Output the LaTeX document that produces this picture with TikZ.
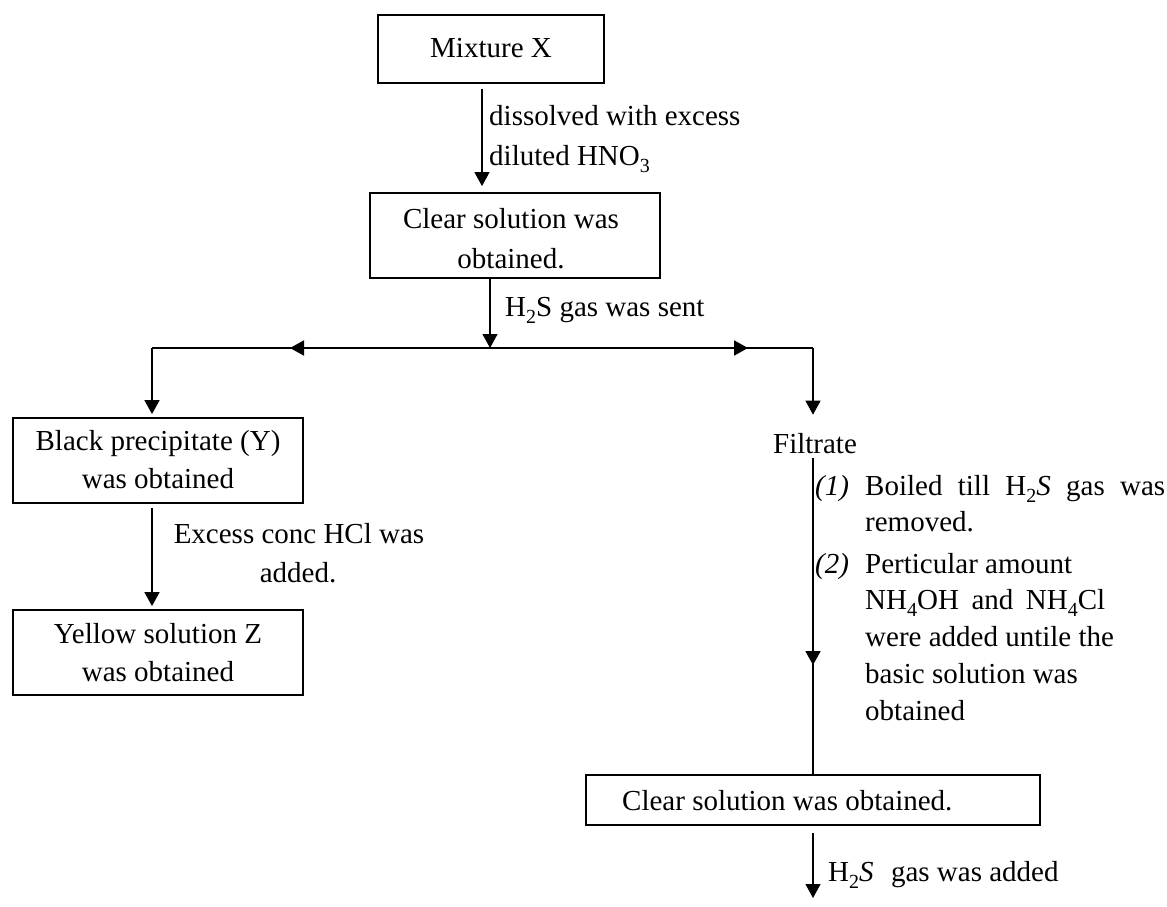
\documentclass[tikz,border=0pt]{standalone}
\usepackage{fontspec}
\setmainfont{Liberation Serif}
\usetikzlibrary{arrows.meta}
\newcommand\chsub[1]{\raisebox{-0.27em}{\fontsize{20}{20}\selectfont #1}}
\begin{document}
\begin{tikzpicture}[x=1pt,y=-1pt,
  box/.style={draw, line width=1.8pt, inner sep=0pt, minimum height=85pt},
  txt/.style={font=\fontsize{29}{39}\selectfont, inner sep=0pt},
  conn/.style={line width=1.1pt},
  tip/.style={conn, -{Triangle[length=14pt,width=15pt]}},
  heavy/.style={line width=1.8pt, -{Triangle[length=14pt,width=15pt]}},
]
\useasboundingbox (0,0) rectangle (1167,906);

% boxes and their texts
\node[box, minimum width=226pt, minimum height=68pt] (mix) at (491,49) {};
\node[txt, anchor=base] (mixT) at (491,57) {Mixture X};

\node[box, minimum width=290pt] (clear1) at (515,235.5) {};
\node[txt, anchor=base] (clear1a) at (511,228) {Clear solution was};
\node[txt, anchor=base] (clear1b) at (511,268) {obtained.};

\node[box, minimum width=290pt] (black) at (158,460.5) {};
\node[txt, anchor=base] (blacka) at (158,450) {Black precipitate (Y)};
\node[txt, anchor=base] (blackb) at (158,488) {was obtained};

\node[box, minimum width=290pt] (yellow) at (158,652.5) {};
\node[txt, anchor=base] (yellowa) at (158,643) {Yellow solution Z};
\node[txt, anchor=base] (yellowb) at (158,681) {was obtained};

\node[box, minimum width=454pt, minimum height=50pt] (clear2) at (813,800) {};
\node[txt, anchor=base west] (clear2T) at (622,810) {Clear solution was obtained.};

\node[txt, anchor=base] (filt) at (815,453) {Filtrate};

% labels
\node[txt, anchor=base west] (l1a) at (489,125) {dissolved with excess};
\node[txt, anchor=base west] (l1b) at (489,165) {diluted HNO\chsub{3}};
\node[txt, anchor=base west] (l2) at (505,316) {H\chsub{2}S gas was sent};
\node[txt, anchor=base] (l3a) at (299,543) {Excess conc HCl was};
\node[txt, anchor=base] (l3b) at (298,582) {added.};

\node[txt, anchor=base west] (n1) at (815,495) {\textit{(1)}};
\node[txt, anchor=base west] (i1a) at (865,495) {\makebox[300pt][s]{Boiled till H\chsub{2}\textit{S} gas was}};
\node[txt, anchor=base west] (i1b) at (865,531) {removed.};
\node[txt, anchor=base west] (n2) at (815,573) {\textit{(2)}};
\node[txt, anchor=base west] (i2a) at (865,573) {Perticular amount};
\node[txt, anchor=base west] (i2b) at (865,609) {\makebox[240pt][s]{NH\chsub{4}OH and NH\chsub{4}Cl}};
\node[txt, anchor=base west] (i2c) at (865,646) {were added untile the};
\node[txt, anchor=base west] (i2d) at (865,683) {basic solution was};
\node[txt, anchor=base west] (i2e) at (865,720) {obtained};
\node[txt, anchor=base west] (l5) at (828,881) {H\chsub{2}\textit{S}\hspace{0.6em}gas was added};

% helper coordinates
\coordinate (x1) at (482,0);
\coordinate (x2) at (490,0);
\coordinate (j) at (490,348);
\coordinate (jl) at (152,348);
\coordinate (jr) at (813,348);
\coordinate (hl) at (373,348);
\coordinate (hr) at (669,348);
\coordinate (al) at (290,348);
\coordinate (ar) at (748,348);
\coordinate (fm) at (813,597);
\coordinate (ft) at (813,665);
\coordinate (endpt) at (813,898);

% connectors
\draw[tip, shorten <=5pt, shorten >=6pt] (mix.south -| x1) -- (clear1.north -| x1);
\draw[tip] (clear1.south -| x2) -- (j);
\draw[conn] (jl) -- (jr);
\draw[heavy] (hl) -- (al);
\draw[heavy] (hr) -- (ar);
\draw[tip, shorten >=3pt] (jl) -- (black.north -| jl);
\draw[tip, shorten >=18pt] (jr) -- (filt.north -| jr);
\draw[conn, shorten <=5pt] (filt.south -| jr) -- (clear2.north -| jr);
\draw[heavy] (fm) -- (ft);
\draw[tip, shorten <=4pt, shorten >=3pt] (black.south -| jl) -- (yellow.north -| jl);
\draw[tip, shorten <=7pt] (clear2.south -| jr) -- (endpt);
\end{tikzpicture}
\end{document}
